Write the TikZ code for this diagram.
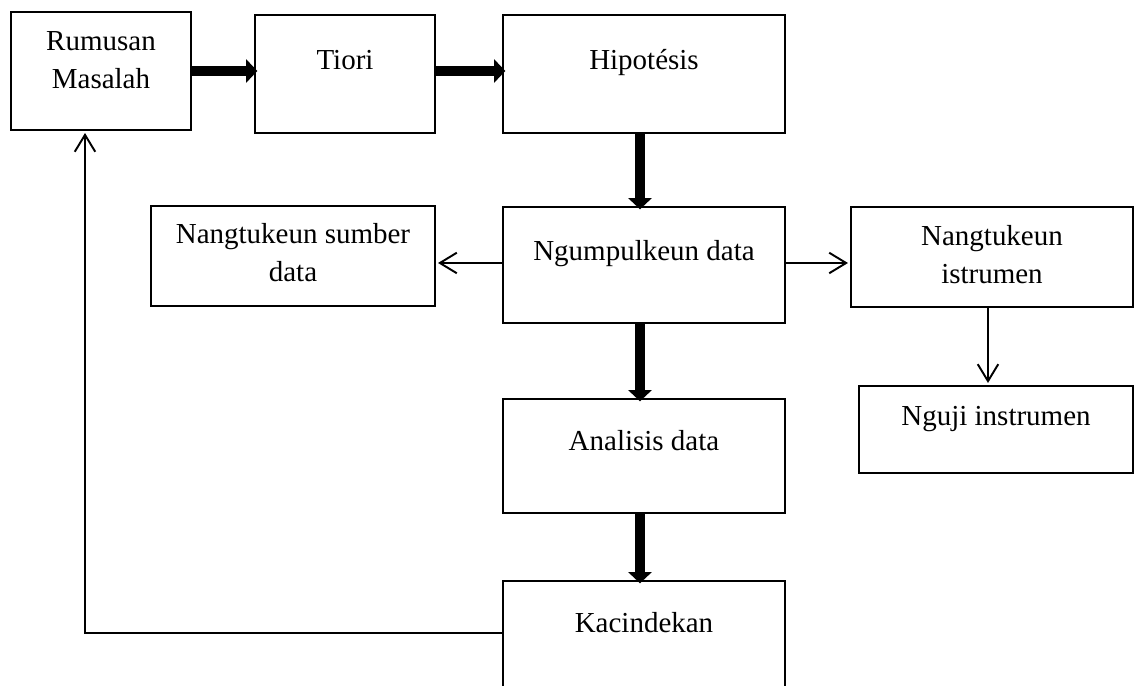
\documentclass[tikz,border=0pt]{standalone}
\usepackage{fontspec}
\setmainfont{Liberation Serif}
\usetikzlibrary{positioning, arrows.meta}

\newcommand{\pxu}{0.414pt}

\begin{document}
\begin{tikzpicture}[x=0.414pt, y=-0.414pt, font=\fontsize{12}{15.7}\selectfont]
  \tikzset{
    box/.style 2 args={draw, line width=0.5pt, minimum width=#1*\pxu, minimum height=#2*\pxu, inner sep=0pt},
    txt/.style={anchor=base, yshift=-#1*\pxu, align=center, inner sep=0pt},
    mainflow/.style={line width=4.1pt, -{Triangle[width=9.5pt, length=4.6pt]}, shorten >=-1.2pt},
    sideflow/.style={line width=0.8pt, -{Straight Barb[width=8.5pt, length=7pt]}, shorten >=1pt}
  }

  \useasboundingbox (0,0) rectangle (1135,686);
  \clip (0,0) rectangle (1135,686);

  % Kotak-kotak
  \node[box={180}{118}, label={[txt=77]north:Rumusan\\Masalah}] (rumusan) at (101,71) {};
  \node[box={180}{118}, label={[txt=55]north:Tiori}] (tiori) at (345,74) {};
  \node[box={282}{118}, label={[txt=55]north:Hipotésis}] (hipo) at (644,74) {};
  \node[box={284}{100}, label={[txt=76]north:Nangtukeun sumber\\data}] (sumber) at (293,256) {};
  \node[box={282}{116}, label={[txt=54]north:Ngumpulkeun data}] (ngumpul) at (644,265) {};
  \node[box={282}{100}, label={[txt=77]north:Nangtukeun\\istrumen}] (istrumen) at (992,257) {};
  \node[box={274}{87}, label={[txt=40]north:Nguji instrumen}] (nguji) at (996,429.5) {};
  \node[box={282}{114}, label={[txt=52]north:Analisis data}] (analisis) at (644,456) {};
  \node[box={282}{116}, label={[txt=52]north:Kacindekan}] (kacindekan) at (644,639) {};

  % Titik bantu
  \coordinate (fila) at (0,71);
  \coordinate (eje) at (640,0);
  \coordinate (cabang) at (0,263);
  \coordinate (uji) at (988,0);
  \coordinate (vuelta) at (85,633);

  % Panah utama
  \draw[mainflow] (rumusan.east |- fila) -- (tiori.west |- fila);
  \draw[mainflow] (tiori.east |- fila) -- (hipo.west |- fila);
  \draw[mainflow] (hipo.south -| eje) -- (ngumpul.north -| eje);
  \draw[mainflow] (ngumpul.south -| eje) -- (analisis.north -| eje);
  \draw[mainflow] (analisis.south -| eje) -- (kacindekan.north -| eje);

  % Panah cabang
  \draw[sideflow] (ngumpul.west |- cabang) -- (sumber.east |- cabang);
  \draw[sideflow] (ngumpul.east |- cabang) -- (istrumen.west |- cabang);
  \draw[sideflow] (istrumen.south -| uji) -- (nguji.north -| uji);
  \draw[sideflow] (kacindekan.west |- vuelta) -- (vuelta) -- (vuelta |- rumusan.south);

\end{tikzpicture}
\end{document}
